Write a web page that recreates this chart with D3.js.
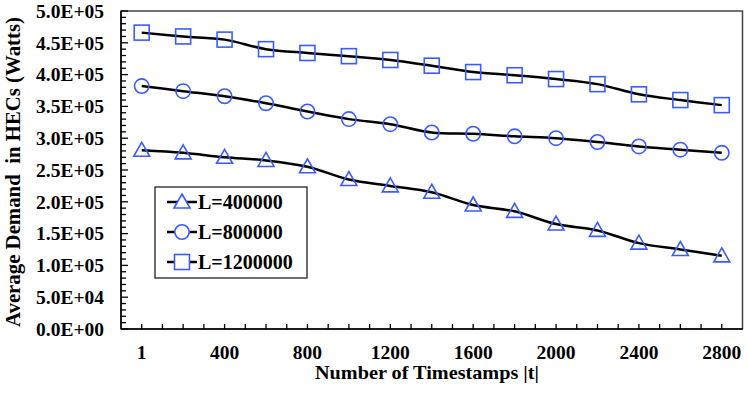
<!DOCTYPE html>
<html><head><meta charset="utf-8">
<script src="https://cdn.jsdelivr.net/npm/d3@7"></script>
<style>
body{margin:0;background:#fff;}
text{font-family:"Liberation Serif","Times New Roman",serif;font-weight:bold;fill:#000;}
</style></head>
<body><svg id="c" width="747" height="394"></svg>
<script>
const categories = ["1","200","400","600","800","1000","1200","1400","1600","1800","2000","2200","2400","2600","2800"];
const tickLabels = ["1","400","800","1200","1600","2000","2400","2800"];
const seriesNames = ["L=400000","L=800000","L=1200000"];
const L400000 = [281000,277000,270000,265000,255000,235000,225000,215000,195000,185000,165000,155000,135000,125000,115000];
const L800000 = [382000,374000,366000,355000,342000,330000,322000,309000,307000,303000,300000,294000,287000,282000,277000];
const L1200000 = [466000,460000,455000,440000,434000,429000,423000,414000,404000,399000,393000,385000,369000,360000,352000];
const yTicks = [0,50000,100000,150000,200000,250000,300000,350000,400000,450000,500000];
const markers = ["triangle","circle","square"];

const series = [L400000, L800000, L1200000];
const svg = d3.select("#c");
const pL=121, pR=742.5, pT=11, pB=329;
const blue="#3a5cff";

const x = d3.scaleBand().domain(categories).range([pL,pR]).padding(0);
const y = d3.scaleLinear().domain([0,500000]).range([pB,pT]);
const cx = c => x(c)+x.bandwidth()/2;

// plot frame
svg.append("rect").attr("x",pL).attr("y",pT).attr("width",pR-pL).attr("height",pB-pT)
  .attr("fill","none").attr("stroke","#444").attr("stroke-width",1.5);

// y axis: major + minor ticks inside
const minor = d3.range(0,500001,10000);
svg.append("g").selectAll("line").data(minor).join("line")
  .attr("x1",pL).attr("x2",d=>pL+(d%50000===0?7:5))
  .attr("y1",d=>y(d)).attr("y2",d=>y(d)).attr("stroke","#000").attr("stroke-width",1.3);
svg.append("line").attr("x1",pL).attr("x2",pL).attr("y1",pT).attr("y2",pB).attr("stroke","#000").attr("stroke-width",1.5);
svg.append("g").selectAll("text").data(yTicks).join("text")
  .attr("x",104).attr("y",d=>y(d)).attr("dy","0.35em").attr("text-anchor","end")
  .style("font-size","19.5px").text(d=>{const e=d3.format(".1e")(d);const [m,p]=e.split("e");const ex=+p;return m.toUpperCase()+"E"+(ex<0?"-":"+")+String(Math.abs(ex)).padStart(2,"0");});

// x axis ticks: at band centers and boundaries
const xt=[];
categories.forEach(c=>{xt.push(x(c));xt.push(cx(c));});
xt.push(pR);
svg.append("g").selectAll("line").data(xt.slice(1,-1)).join("line")
  .attr("x1",d=>d).attr("x2",d=>d).attr("y1",pB).attr("y2",pB-5).attr("stroke","#000").attr("stroke-width",1.3);
svg.append("line").attr("x1",pL).attr("x2",pR).attr("y1",pB).attr("y2",pB).attr("stroke","#000").attr("stroke-width",1.5);
svg.append("g").selectAll("text").data(tickLabels).join("text")
  .attr("x",d=>cx(d)).attr("y",358.5).attr("text-anchor","middle").style("font-size","19.5px").text(d=>d);

// titles
svg.append("text").attr("x",427).attr("y",379).attr("text-anchor","middle").style("font-size","19px")
  .attr("textLength",224).attr("lengthAdjust","spacingAndGlyphs").text("Number of Timestamps |t|");
svg.append("text").attr("transform","translate(20,172) rotate(-90)").attr("text-anchor","middle").style("font-size","20px")
  .attr("textLength",310).attr("lengthAdjust","spacingAndGlyphs")
  .style("white-space","pre").text("Average Demand  in HECs (Watts)");

// lines
const line = d3.line().x((d,i)=>cx(categories[i])).y(d=>y(d)).curve(d3.curveCatmullRom.alpha(0.5));
function drawMarker(g,type,px,py){
  if(type==="circle") g.append("circle").attr("cx",px).attr("cy",py).attr("r",7.2);
  else if(type==="square") g.append("rect").attr("x",px-7.5).attr("y",py-7.5).attr("width",15).attr("height",15);
  else g.append("path").attr("d",`M${px},${py-8}L${px+8},${py+6}L${px-8},${py+6}Z`);
}
series.forEach((s,k)=>{
  svg.append("path").datum(s).attr("d",line).attr("fill","none").attr("stroke","#000").attr("stroke-width",2.5);
  const g=svg.append("g").attr("fill","none").attr("stroke",blue).attr("stroke-width",1.6);
  s.forEach((v,i)=>drawMarker(g,markers[k],cx(categories[i]),y(v)));
});

// legend
const lg=svg.append("g");
lg.append("rect").attr("x",155).attr("y",187).attr("width",152).attr("height",91).attr("fill","#fff").attr("stroke","#222").attr("stroke-width",1.3);
seriesNames.forEach((n,k)=>{
  const yy=202+k*30;
  lg.append("line").attr("x1",167).attr("x2",197).attr("y1",yy).attr("y2",yy).attr("stroke","#000").attr("stroke-width",2.5);
  const g=lg.append("g").attr("fill","#fff").attr("stroke",blue).attr("stroke-width",1.6);
  drawMarker(g,markers[k],182,yy);
  lg.append("text").attr("x",198).attr("y",yy).attr("dy","0.35em").style("font-size","20px").text(n);
});
</script></body></html>
